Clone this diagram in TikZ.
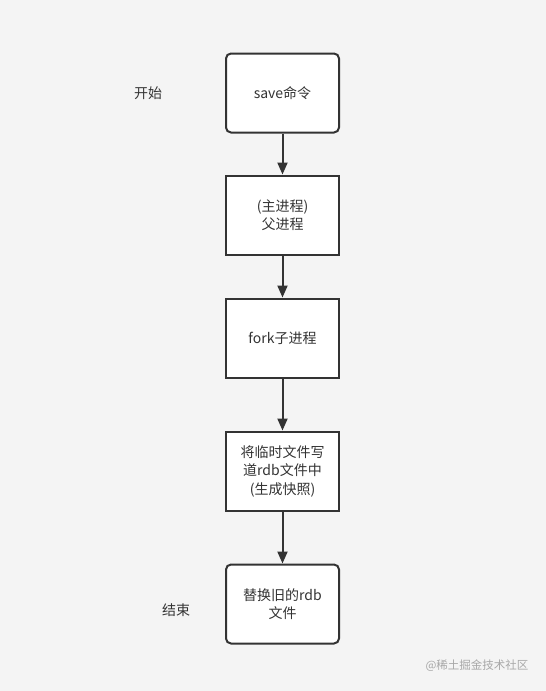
\documentclass[tikz,border=0pt]{standalone}
\usepackage{fontspec}
\usepackage{xcolor}
\usetikzlibrary{arrows.meta}
\newfontfamily\cjk{Noto Sans CJK SC}
\definecolor{bggray}{HTML}{F4F4F4}
\definecolor{linedark}{HTML}{333333}
\definecolor{markgray}{HTML}{A8A8A8}

\begin{document}
\begin{tikzpicture}[x=1pt,y=-1pt,
  stepbox/.style={draw=linedark,line width=2pt,fill=white,minimum width=113pt,minimum height=79pt,align=center,font=\cjk\fontsize{14}{18.5}\selectfont,text=linedark},
  roundbox/.style={stepbox,rounded corners=5pt},
  flow/.style={draw=linedark,line width=2pt,-{Triangle[length=12pt,width=10pt]}},
  sidelabel/.style={font=\cjk\fontsize{14}{18.5}\selectfont,text=linedark}]
  \fill[bggray] (0,0) rectangle (546,691);
  \useasboundingbox (0,0) rectangle (546,691);
  \node[roundbox] (save) at (282.5,93) {save命令};
  \node[stepbox] (parent) at (282.5,215) {(主进程)\\父进程};
  \node[stepbox] (fork) at (282.5,338) {fork子进程};
  \node[stepbox] (write) at (282.5,471) {将临时文件写\\道rdb文件中\\(生成快照)};
  \node[roundbox] (replace) at (282.5,604) {替换旧的rdb\\文件};
  \node[sidelabel] (start) at (148,93) {开始};
  \node[sidelabel] (finish) at (176,610) {结束};
  \node[font=\cjk\fontsize{11.5}{13}\selectfont,text=markgray] (mark) at (477,666) {@稀土掘金技术社区};
  \draw[flow] (save) -- (parent);
  \draw[flow] (parent) -- (fork);
  \draw[flow] (fork) -- (write);
  \draw[flow] (write) -- (replace);
\end{tikzpicture}
\end{document}
